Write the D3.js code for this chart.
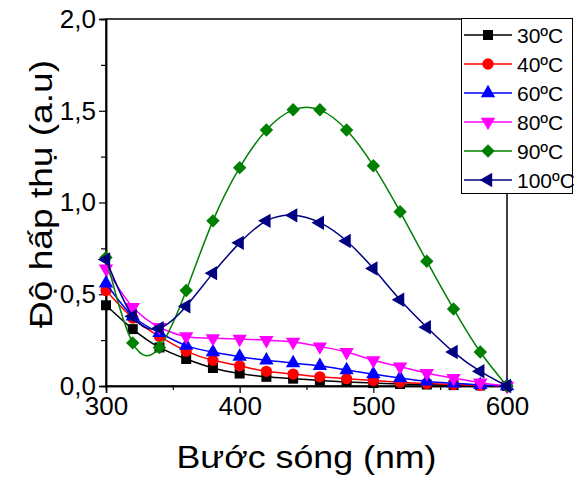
<!DOCTYPE html>
<html>
<head>
<meta charset="utf-8">
<script src="https://cdn.jsdelivr.net/npm/d3@7"></script>
<style>
body { margin: 0; background: #fff; }
text { font-family: Arial, "Liberation Sans", sans-serif; }
</style>
</head>
<body>
<div id="chart"></div>
<script>
// wavelength (nm), one point every 20 nm
let wavelengths = [300, 320, 340, 360, 380, 400, 420, 440, 460, 480, 500, 520, 540, 560, 580, 600];

let seriesNames = ["30ºC", "40ºC", "60ºC", "80ºC", "90ºC", "100ºC"];

let abs30  = [0.44, 0.31, 0.21, 0.147, 0.098, 0.068, 0.05, 0.04, 0.03, 0.022, 0.016, 0.011, 0.008, 0.005, 0.003, 0.0];
let abs40  = [0.52, 0.37, 0.27, 0.19, 0.14, 0.11, 0.08, 0.065, 0.05, 0.04, 0.03, 0.02, 0.013, 0.008, 0.004, 0.0];
let abs60  = [0.56, 0.38, 0.29, 0.22, 0.185, 0.16, 0.14, 0.125, 0.11, 0.087, 0.065, 0.043, 0.025, 0.015, 0.006, 0.0];
let abs80  = [0.64, 0.43, 0.32, 0.27, 0.26, 0.256, 0.25, 0.24, 0.215, 0.185, 0.14, 0.105, 0.07, 0.043, 0.018, 0.0];
let abs90  = [0.70, 0.235, 0.21, 0.52, 0.90, 1.19, 1.395, 1.505, 1.505, 1.395, 1.20, 0.95, 0.68, 0.42, 0.185, 0.0];
let abs100 = [0.69, 0.38, 0.315, 0.435, 0.615, 0.78, 0.90, 0.93, 0.89, 0.79, 0.64, 0.47, 0.32, 0.185, 0.08, 0.0];

let xTicks = [300, 400, 500, 600];
let yTicks = [0, 0.5, 1.0, 1.5, 2.0];

let colours = ["#000000", "#ff0000", "#0000ff", "#ff00ff", "#008000", "#000080"];
let allValues = [abs30, abs40, abs60, abs80, abs90, abs100];

let width = 574, height = 478;
let margin = { left: 106, right: 67, top: 19, bottom: 92 };

let svg = d3.select("#chart").append("svg")
	.attr("width", width)
	.attr("height", height);

let x = d3.scaleLinear().domain([300, 600]).range([margin.left, width - margin.right]);
let y = d3.scaleLinear().domain([0, 2]).range([height - margin.bottom, margin.top]);

let fmt = (d) => d3.format(".1f")(d).replace(".", ",");

// frame
svg.append("rect")
	.attr("x", x(300)).attr("y", y(2))
	.attr("width", x(600) - x(300)).attr("height", y(0) - y(2))
	.attr("fill", "none").attr("stroke", "#000").attr("stroke-width", 1.5);

// axes
let xAxis = svg.append("g")
	.attr("transform", `translate(0,${y(0)})`)
	.call(d3.axisBottom(x).tickValues(xTicks).tickSize(7).tickPadding(4));
svg.append("g")
	.attr("transform", `translate(0,${y(0)})`)
	.call(d3.axisBottom(x).tickValues([350, 450, 550]).tickSize(4).tickFormat(""));

let yAxis = svg.append("g")
	.attr("transform", `translate(${x(300)},0)`)
	.call(d3.axisLeft(y).tickValues(yTicks).tickSize(7).tickPadding(3).tickFormat(fmt));
svg.append("g")
	.attr("transform", `translate(${x(300)},0)`)
	.call(d3.axisLeft(y).tickValues([0.25, 0.75, 1.25, 1.75]).tickSize(5).tickFormat(""));

svg.selectAll(".domain").attr("stroke-width", 1.5);
svg.selectAll(".tick line").attr("stroke-width", 1.2);
xAxis.selectAll("text").attr("font-size", 26).attr("fill", "#000");
yAxis.selectAll("text").attr("font-size", 26).attr("fill", "#000");

// axis titles
svg.append("text")
	.attr("x", (x(300) + x(600)) / 2).attr("y", 468)
	.attr("text-anchor", "middle")
	.attr("font-size", 32)
	.attr("textLength", 260)
	.attr("lengthAdjust", "spacingAndGlyphs")
	.text("Bước sóng (nm)");

svg.append("text")
	.attr("transform", `translate(52,194) rotate(-90)`)
	.attr("text-anchor", "middle")
	.attr("font-size", 32)
	.attr("textLength", 268)
	.attr("lengthAdjust", "spacingAndGlyphs")
	.text("Độ hấp thụ (a.u)");

// markers
let tri = d3.symbol().type(d3.symbolTriangle).size(90)();
let symbols = [
	{ path: d3.symbol().type(d3.symbolSquare).size(100)(), rot: 0 },
	{ path: d3.symbol().type(d3.symbolCircle).size(100)(), rot: 0 },
	{ path: tri, rot: 0 },
	{ path: tri, rot: 180 },
	{ path: d3.symbol().type(d3.symbolSquare).size(90)(), rot: 45 },
	{ path: tri, rot: -90 }
];

let line = d3.line()
	.x((d) => x(d.wl))
	.y((d) => y(d.v))
	.curve(d3.curveNatural);

allValues.forEach((vals, i) => {
	let pts = wavelengths.map((wl, j) => ({ wl: wl, v: vals[j] }));
	let g = svg.append("g");
	g.append("path")
		.attr("d", line(pts))
		.attr("fill", "none")
		.attr("stroke", colours[i])
		.attr("stroke-width", 1.5);
	g.selectAll("path.m")
		.data(pts).enter()
		.append("path")
		.attr("class", "m")
		.attr("d", symbols[i].path)
		.attr("transform", (d) => `translate(${x(d.wl)},${y(d.v)}) rotate(${symbols[i].rot})`)
		.attr("fill", colours[i]);
});

// legend
let legend = svg.append("g");
legend.append("rect")
	.attr("x", 461.5).attr("y", 18.5)
	.attr("width", 111).attr("height", 175)
	.attr("fill", "#fff").attr("stroke", "#000").attr("stroke-width", 1);

seriesNames.forEach((name, i) => {
	let ly = 35 + i * 29;
	legend.append("line")
		.attr("x1", 464).attr("x2", 512)
		.attr("y1", ly).attr("y2", ly)
		.attr("stroke", colours[i]).attr("stroke-width", 1.5);
	legend.append("path")
		.attr("d", symbols[i].path)
		.attr("transform", `translate(488,${ly}) rotate(${symbols[i].rot})`)
		.attr("fill", colours[i]);
	legend.append("text")
		.attr("x", 517).attr("y", ly + 8)
		.attr("font-size", 21)
		.text(name);
});
</script>
</body>
</html>
